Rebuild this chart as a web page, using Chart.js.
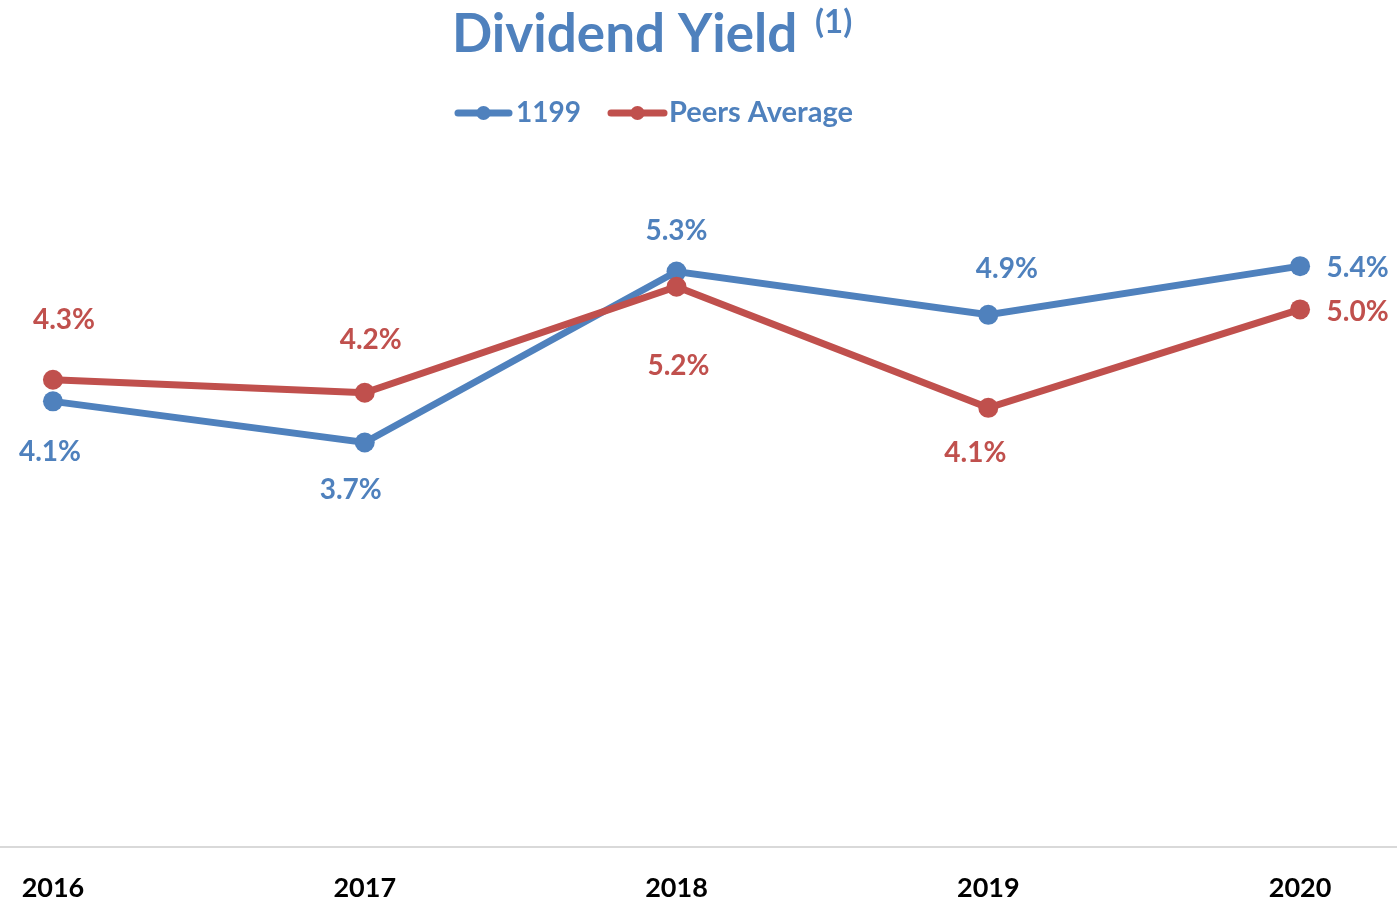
<!DOCTYPE html>
<html>
<head>
<meta charset="utf-8">
<script src="https://cdn.jsdelivr.net/npm/chart.js@4"></script>
<style>
  html, body { margin: 0; padding: 0; background: #ffffff; }
  #wrap { position: relative; width: 1397px; height: 901px; }
</style>
</head>
<body>
<div id="wrap"><canvas id="c" width="1397" height="901"></canvas></div>
<script>
// ---- data ----
const categories = [2016, 2017, 2018, 2019, 2020];
const seriesNames = ['1199', 'Peers Average'];
const company = [4.12, 3.74, 5.32, 4.92, 5.37];
const peers = [4.32, 4.20, 5.18, 4.06, 4.97];
const titleText = 'Dividend Yield';
const titleNote = '(1)';

// ---- styling / layout (not data) ----
const BLUE = '#4F81BD';
const RED = '#C0504D';
const FONT = 'Lato, "Open Sans", sans-serif';
// label centre offsets from each point, [dx, dy]
const companyLabelOffsets = [[-3, 49.5], [-14, 47], [0, -42], [18.5, -47], [57.5, 1]];
const peersLabelOffsets = [[11, -61], [6, -54], [2, 78], [-13, 44], [57.5, 2]];

const titlePlugin = {
  id: 'titleLegend',
  afterDraw(chart) {
    const ctx = chart.ctx;
    ctx.save();
    ctx.textBaseline = 'alphabetic';
    ctx.textAlign = 'left';
    ctx.fillStyle = BLUE;
    ctx.font = 'bold 53px ' + FONT;
    ctx.fillText(titleText, 452, 52);
    ctx.font = 'bold 33px ' + FONT;
    ctx.fillText(titleNote, 815, 33);

    // legend
    const items = [
      {x0: 455, x1: 512, text: 516, color: chart.data.datasets[1].borderColor, label: chart.data.datasets[1].label, size: 28},
      {x0: 608, x1: 667, text: 669, color: chart.data.datasets[0].borderColor, label: chart.data.datasets[0].label, size: 29}
    ];
    const ly = 113;
    items.forEach(it => {
      ctx.strokeStyle = it.color;
      ctx.lineWidth = 7;
      ctx.lineCap = 'round';
      ctx.beginPath();
      ctx.moveTo(it.x0 + 3, ly);
      ctx.lineTo(it.x1 - 3, ly);
      ctx.stroke();
      ctx.fillStyle = it.color;
      ctx.beginPath();
      ctx.arc((it.x0 + it.x1) / 2, ly, 7, 0, Math.PI * 2);
      ctx.fill();
      ctx.fillStyle = BLUE;
      ctx.font = 'bold ' + it.size + 'px ' + FONT;
      ctx.fillText(it.label, it.text, 122);
    });
    ctx.restore();
  }
};

const labelPlugin = {
  id: 'valueLabels',
  afterDatasetsDraw(chart) {
    const ctx = chart.ctx;
    ctx.save();
    ctx.font = 'bold 28px ' + FONT;
    ctx.textAlign = 'center';
    ctx.textBaseline = 'alphabetic';
    chart.data.datasets.forEach((ds, i) => {
      const meta = chart.getDatasetMeta(i);
      meta.data.forEach((el, j) => {
        const off = ds.labelOffsets[j];
        const v = ds.data[j].y;
        ctx.fillStyle = ds.borderColor;
        ctx.fillText(v.toFixed(1) + '%', el.x + off[0], el.y + off[1] + 10);
      });
    });
    ctx.restore();
  }
};

const toPoints = vals => categories.map((c, i) => ({x: c, y: vals[i]}));

new Chart(document.getElementById('c'), {
  type: 'line',
  data: {
    datasets: [
      {
        label: seriesNames[1], data: toPoints(peers), borderColor: RED, backgroundColor: RED,
        borderWidth: 7, pointRadius: 10, pointBorderWidth: 0, pointBackgroundColor: RED,
        pointHoverRadius: 10, tension: 0, order: 0, labelOffsets: peersLabelOffsets
      },
      {
        label: seriesNames[0], data: toPoints(company), borderColor: BLUE, backgroundColor: BLUE,
        borderWidth: 7, pointRadius: 10, pointBorderWidth: 0, pointBackgroundColor: BLUE,
        pointHoverRadius: 10, tension: 0, order: 1, labelOffsets: companyLabelOffsets
      }
    ]
  },
  options: {
    responsive: false,
    animation: false,
    events: [],
    layout: { autoPadding: false, padding: { top: 198, bottom: 0, left: 0, right: 0 } },
    plugins: { legend: { display: false }, title: { display: false }, tooltip: { enabled: false } },
    scales: {
      x: {
        type: 'linear',
        min: categories[0] - 53 / 312,
        max: categories[categories.length - 1] + 97 / 312,
        grid: { display: false, drawTicks: false },
        border: { display: true, color: '#D9D9D9', width: 2 },
        ticks: {
          stepSize: 1, includeBounds: false, padding: 28, color: '#000000',
          font: { family: FONT, size: 27, weight: 'bold', lineHeight: 1 },
          maxRotation: 0, autoSkip: false,
          callback: v => String(v)
        },
        afterFit(scale) {
          scale.height = 54;
          scale.paddingLeft = 0;
          scale.paddingRight = 0;
        }
      },
      y: { display: false, min: 0, max: 6 }
    }
  },
  plugins: [labelPlugin, titlePlugin]
});
</script>
</body>
</html>
